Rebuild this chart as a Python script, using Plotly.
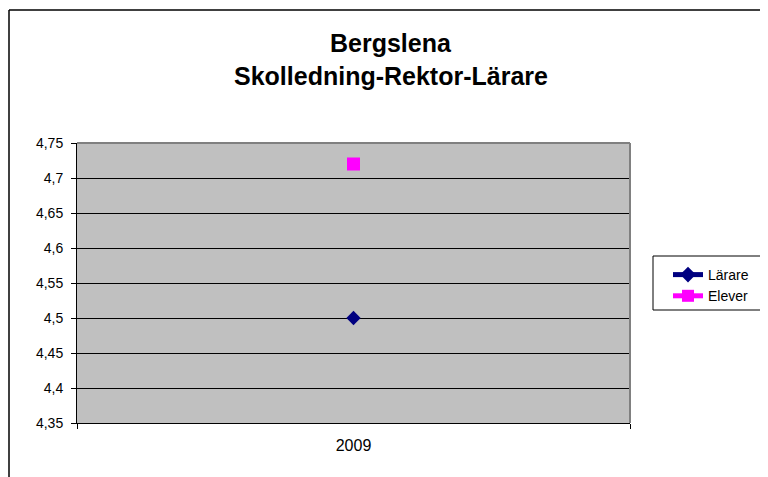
import plotly.graph_objects as go

categories = ["2009"]
larare = [4.5]
elever = [4.72]
series_names = ["Lärare", "Elever"]
y_ticks = [4.35, 4.4, 4.45, 4.5, 4.55, 4.6, 4.65, 4.7, 4.75]
y_ticktext = ["4,35", "4,4", "4,45", "4,5", "4,55", "4,6", "4,65", "4,7", "4,75"]
title_lines = ["Bergslena", "Skolledning-Rektor-Lärare"]

FONT = "Liberation Sans, Arial, sans-serif"
OFF = 8  # default page body margin
W, H = 768 - OFF, 477 - OFF
L, R, T, B = 77 - OFF, 630 - OFF, 143 - OFF, 423 - OFF
pw, ph = R - L, B - T


def px(x):
    return (x - OFF - L) / pw


def py(y):
    return (B - (y - OFF)) / ph


fig = go.Figure()
fig.add_trace(go.Scatter(
    x=categories, y=larare, name=series_names[0], mode="lines+markers",
    line=dict(color="#000080", width=2),
    marker=dict(symbol="diamond", size=11, color="#000080"),
))
fig.add_trace(go.Scatter(
    x=categories, y=elever, name=series_names[1], mode="lines+markers",
    line=dict(color="#FF00FF", width=2),
    marker=dict(symbol="square", size=13, color="#FF00FF"),
))

fig.update_layout(
    width=W, height=H,
    margin=dict(l=L, r=W - R, t=T, b=H - B, pad=0),
    paper_bgcolor="white",
    plot_bgcolor="#C0C0C0",
    font=dict(family=FONT, size=12, color="black"),
    showlegend=True,
    legend=dict(
        x=px(668), y=py(259), xanchor="left", yanchor="top",
        bgcolor="rgba(0,0,0,0)", borderwidth=0,
        font=dict(family=FONT, size=14, color="black"),
        tracegroupgap=0, itemsizing="constant",
    ),
    xaxis=dict(
        type="category", range=[-0.5, 0.5],
        showgrid=False, zeroline=False,
        showline=True, linecolor="black", linewidth=1,
        ticks="outside", ticklen=5, tickcolor="black", tickson="boundaries",
        ticklabelstandoff=8,
        tickfont=dict(family=FONT, size=16, color="black"),
    ),
    yaxis=dict(
        range=[4.35, 4.75],
        tickvals=y_ticks, ticktext=y_ticktext,
        showgrid=True, gridcolor="black", gridwidth=1,
        zeroline=False,
        showline=True, linecolor="black", linewidth=1,
        ticks="outside", ticklen=5, tickcolor="black",
        ticklabelstandoff=5,
        tickfont=dict(family=FONT, size=14, color="black"),
    ),
)

# legend frame
fig.add_shape(type="rect", xref="paper", yref="paper", layer="below",
              x0=px(653), x1=px(767), y0=py(310), y1=py(256),
              fillcolor="white", line=dict(color="black", width=1))

# grey plot-area border (top and right)
fig.add_shape(type="line", xref="paper", yref="paper", x0=0, x1=1, y0=1, y1=1,
              line=dict(color="#808080", width=2))
fig.add_shape(type="line", xref="paper", yref="paper", x0=1, x1=1, y0=0, y1=1,
              line=dict(color="#808080", width=2))

# outer chart border (top and left visible)
fig.add_shape(type="line", xref="paper", yref="paper",
              x0=px(9), x1=px(800), y0=py(10), y1=py(10),
              line=dict(color="black", width=1.5))
fig.add_shape(type="line", xref="paper", yref="paper",
              x0=px(9), x1=px(9), y0=py(10), y1=py(520),
              line=dict(color="black", width=1.5))

# title lines
for text, yc in zip(title_lines, [43, 76]):
    fig.add_annotation(
        text="<b>%s</b>" % text, xref="paper", yref="paper",
        x=px(391), y=py(yc), xanchor="center", yanchor="middle",
        showarrow=False, font=dict(family=FONT, size=25, color="black"),
    )

fig.write_html("out.html")
